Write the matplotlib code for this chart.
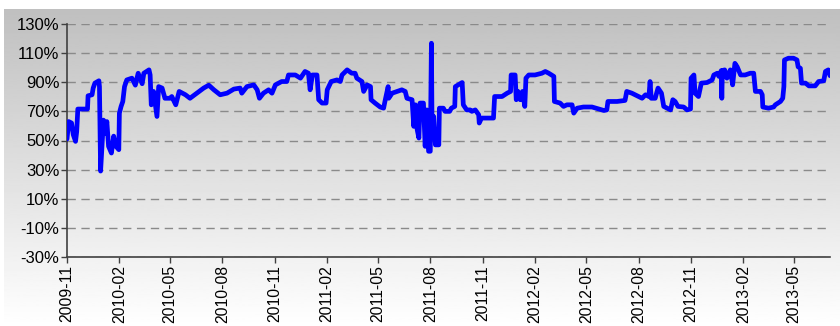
import numpy as np
import pandas as pd
import matplotlib
matplotlib.use("Agg")
import matplotlib.pyplot as plt
import matplotlib.dates as mdates

# values (ratio in %)
dates = [
    "2009-11-01", "2009-11-04", "2009-11-09", "2009-11-12", "2009-11-16", "2009-11-18",
    "2009-11-20", "2009-12-07", "2009-12-08", "2009-12-15", "2009-12-17", "2009-12-20",
    "2009-12-27", "2009-12-28", "2009-12-30", "2010-01-04", "2010-01-07", "2010-01-10",
    "2010-01-13", "2010-01-18", "2010-01-22", "2010-01-26", "2010-01-31", "2010-02-01",
    "2010-02-04", "2010-02-07", "2010-02-10", "2010-02-14", "2010-02-23", "2010-03-01",
    "2010-03-06", "2010-03-13", "2010-03-16", "2010-03-25", "2010-03-27", "2010-03-29",
    "2010-04-02", "2010-04-08", "2010-04-11", "2010-04-17", "2010-04-22", "2010-05-01",
    "2010-05-04", "2010-05-11", "2010-05-17", "2010-05-28", "2010-06-05", "2010-06-17",
    "2010-06-29", "2010-07-08", "2010-07-17", "2010-07-28", "2010-08-09", "2010-08-21",
    "2010-09-01", "2010-09-04", "2010-09-13", "2010-09-25", "2010-10-01", "2010-10-05",
    "2010-10-12", "2010-10-21", "2010-10-27", "2010-11-02", "2010-11-13", "2010-11-22",
    "2010-11-25", "2010-12-07", "2010-12-16", "2010-12-24", "2010-12-30", "2011-01-02",
    "2011-01-06", "2011-01-14", "2011-01-17", "2011-01-23", "2011-01-30", "2011-02-01",
    "2011-02-08", "2011-02-18", "2011-02-24", "2011-02-27", "2011-03-08", "2011-03-16",
    "2011-03-22", "2011-03-25", "2011-04-03", "2011-04-06", "2011-04-12", "2011-04-18",
    "2011-04-19", "2011-04-26", "2011-05-05", "2011-05-11", "2011-05-14", "2011-05-19",
    "2011-05-20", "2011-05-26", "2011-06-04", "2011-06-12", "2011-06-18", "2011-06-21",
    "2011-06-30", "2011-07-03", "2011-07-06", "2011-07-09", "2011-07-12", "2011-07-14",
    "2011-07-20", "2011-07-23", "2011-07-26", "2011-07-29", "2011-08-01", "2011-08-03",
    "2011-08-04", "2011-08-07", "2011-08-10", "2011-08-16", "2011-08-17", "2011-08-24",
    "2011-08-27", "2011-09-04", "2011-09-07", "2011-09-13", "2011-09-14", "2011-09-19",
    "2011-09-26", "2011-09-28", "2011-10-04", "2011-10-10", "2011-10-13", "2011-10-19",
    "2011-10-25", "2011-10-26", "2011-10-30", "2011-11-09", "2011-11-20", "2011-11-22",
    "2011-12-05", "2011-12-14", "2011-12-20", "2011-12-21", "2011-12-28", "2011-12-30",
    "2012-01-02", "2012-01-06", "2012-01-10", "2012-01-14", "2012-01-16", "2012-01-21",
    "2012-02-01", "2012-02-13", "2012-02-19", "2012-02-25", "2012-03-05", "2012-03-06",
    "2012-03-16", "2012-03-22", "2012-03-28", "2012-04-06", "2012-04-09", "2012-04-15",
    "2012-04-26", "2012-05-11", "2012-05-23", "2012-06-01", "2012-06-06", "2012-06-08",
    "2012-06-24", "2012-07-08", "2012-07-11", "2012-07-20", "2012-08-07", "2012-08-13",
    "2012-08-19", "2012-08-21", "2012-08-23", "2012-08-30", "2012-09-04", "2012-09-10",
    "2012-09-14", "2012-09-20", "2012-09-26", "2012-09-30", "2012-10-04", "2012-10-09",
    "2012-10-19", "2012-10-25", "2012-10-31", "2012-11-01", "2012-11-06", "2012-11-08",
    "2012-11-14", "2012-11-19", "2012-11-29", "2012-12-08", "2012-12-11", "2012-12-17",
    "2012-12-20", "2012-12-24", "2012-12-25", "2012-12-26", "2012-12-30", "2013-01-03",
    "2013-01-09", "2013-01-13", "2013-01-17", "2013-01-21", "2013-01-27", "2013-02-04",
    "2013-02-13", "2013-02-19", "2013-02-22", "2013-03-03", "2013-03-06", "2013-03-07",
    "2013-03-17", "2013-03-26", "2013-03-29", "2013-04-07", "2013-04-11", "2013-04-13",
    "2013-04-14", "2013-04-21", "2013-04-30", "2013-05-06", "2013-05-08", "2013-05-12",
    "2013-05-14", "2013-05-21", "2013-05-27", "2013-06-07", "2013-06-13", "2013-06-22",
    "2013-06-25", "2013-06-30", "2013-07-03",
]
ratio = [
    51, 63, 62, 54, 49.4, 56,
    71.6, 71.6, 80.7, 81.4, 86, 89.4,
    91, 87, 29, 64, 55, 63,
    46, 41.4, 53, 46, 43.7, 68.8,
    73.4, 76.8, 87, 91.6, 92.8, 88,
    96.2, 89, 96.2, 98.5, 95, 74.5,
    83.7, 66.5, 87, 86, 79, 79,
    80.2, 74.5, 83.7, 81.4, 79, 82.5,
    86, 88, 84.8, 81.4, 82.5, 85.3,
    86, 82.5, 87, 88.2, 84.8, 79,
    82.5, 84.8, 82.5, 88.2, 90.5, 90.5,
    95, 95, 92.8, 97.4, 96.2, 84.8,
    95, 95, 78, 75.7, 75.7, 84.8,
    90.5, 91.6, 90.5, 95, 98.5, 96.2,
    96.2, 92.8, 90.5, 83.7, 88.2, 87,
    78, 75.7, 73, 72.2, 78, 87,
    79, 82.5, 83.7, 84.8, 83.7, 79,
    78, 59.7, 74.5, 57.4, 51.7, 75.7,
    75.7, 46, 71, 42.6, 42.6, 116.8,
    64.2, 66.5, 47, 47, 72.2, 72.2,
    70, 70, 72.2, 73.4, 87, 88.2,
    89.8, 74.5, 71, 71, 70, 71,
    67.7, 62, 65.4, 65.4, 65.4, 80.2,
    80.2, 82.5, 83.7, 95, 95, 78,
    83.7, 78, 83.7, 73.4, 92.8, 95,
    95, 96.2, 97.4, 96.2, 94, 76.8,
    75.7, 73.4, 74.5, 74.5, 68.8, 72.2,
    73, 73, 71.6, 70.6, 71, 76.8,
    76.8, 77.5, 83.7, 82.5, 79, 81.4,
    80.2, 90.5, 79, 79, 86, 82.5,
    73.4, 72.2, 71, 78, 76.8, 73.4,
    73, 71, 71.6, 92.8, 95, 82.5,
    80.2, 89.4, 89.8, 91.6, 95, 96.2,
    94, 98, 79, 98, 98.5, 92.8,
    98.5, 88.2, 103, 100.6, 95, 95,
    96.2, 96.2, 83.7, 83.7, 81.4, 73,
    72.2, 73, 74.5, 76.8, 79, 87,
    105.3, 106.5, 106.5, 105.3, 100.6, 99.6,
    89.4, 89.4, 87.5, 87.5, 90.5, 91,
    97.4, 98.5, 94.5,
]

x = pd.to_datetime(dates)
y = np.array(ratio)

y_ticks = [-30, -10, 10, 30, 50, 70, 90, 110, 130]
x_ticks = ["2009-11", "2010-02", "2010-05", "2010-08", "2010-11", "2011-02",
           "2011-05", "2011-08", "2011-11", "2012-02", "2012-05", "2012-08",
           "2012-11", "2013-02", "2013-05"]

plt.rcParams['font.family'] = ['Liberation Sans', 'DejaVu Sans']

fig = plt.figure(figsize=(8.4, 3.26), dpi=100)

# grey-to-white gradient background
bg = fig.add_axes([4 / 840, 0, 1 - 4 / 840, 1 - 9 / 326], zorder=-1)
grad = np.linspace(0.75, 1.0, 256).reshape(-1, 1)
bg.imshow(grad, aspect='auto', cmap='gray', vmin=0, vmax=1,
          extent=[0, 1, 0, 1], origin='upper')
bg.axis('off')

ax = fig.add_axes([67 / 840, 1 - 257 / 326, (830 - 67) / 840, (257 - 24) / 326])
ax.patch.set_alpha(0)

ax.plot(x, y, color='#0000ff', linewidth=3.4, solid_joinstyle='round',
        solid_capstyle='round', zorder=3)

ax.set_ylim(-30, 130)
ax.set_yticks(y_ticks)
ax.set_yticklabels([f"{v}%" for v in y_ticks])
ax.set_xlim(x[0], x[-1])
ax.set_xticks(pd.to_datetime(x_ticks))
ax.xaxis.set_major_formatter(mdates.DateFormatter('%Y-%m'))

for s in ['top', 'right']:
    ax.spines[s].set_visible(False)
for s in ['left', 'bottom']:
    ax.spines[s].set_color('#404040')
    ax.spines[s].set_linewidth(1.2)

ax.grid(axis='y', color='#8a8a8a', linestyle=(0, (6, 4)), linewidth=1)
ax.set_axisbelow(True)
ax.tick_params(axis='y', length=4, width=1, color='#404040', pad=1.5,
               labelsize=12, labelcolor='#000000')
ax.tick_params(axis='x', length=4, width=1, color='#404040', pad=2,
               labelsize=11.3, labelrotation=90, labelcolor='#000000')
for lab in ax.get_xticklabels():
    lab.set_va('top')

fig.savefig('out.png', dpi=100)
